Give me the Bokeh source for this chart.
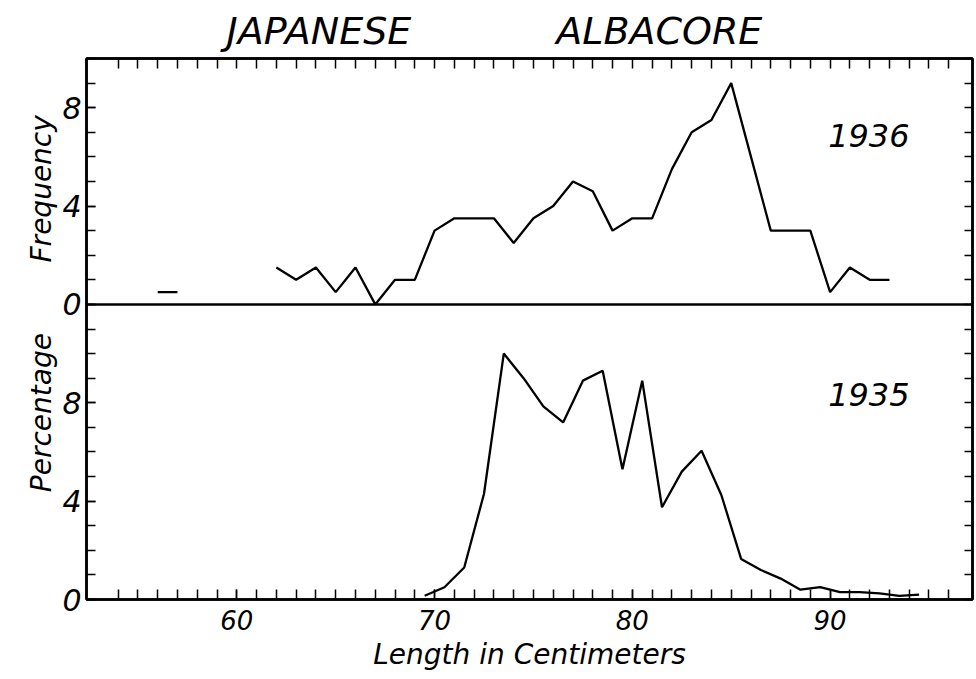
import math
from bokeh.plotting import figure
from bokeh.models import Range1d, LinearAxis, FixedTicker, Label, Span
from bokeh.layouts import row
from bokeh.embed import file_html
from bokeh.resources import INLINE

# ---------------- data ----------------
# 1936 (Frequency) - isolated short piece and main curve
len_1936_iso = [56, 57]
freq_1936_iso = [0.5, 0.5]
len_1936 = [62, 63, 64, 65, 66, 67, 68, 69, 70, 71, 72, 73, 74, 75, 76, 77,
            78, 79, 80, 81, 82, 83, 84, 85, 86, 87, 88, 89, 90, 91, 92, 93]
freq_1936 = [1.5, 1.0, 1.5, 0.5, 1.5, 0.0, 1.0, 1.0, 3.0, 3.5, 3.5, 3.5, 2.5, 3.5, 4.0, 5.0,
             4.6, 3.0, 3.5, 3.5, 5.5, 7.0, 7.5, 9.0, 6.0, 3.0, 3.0, 3.0, 0.5, 1.5, 1.0, 1.0]

# 1935 (Percentage)
len_1935 = [69.5, 70.5, 71.5, 72.5, 73.5, 74.5, 75.5, 76.5, 77.5, 78.5, 79.5, 80.5, 81.5,
            82.5, 83.5, 84.5, 85.5, 86.5, 87.5, 88.5, 89.5, 90.5, 91.5, 92.5, 93.5, 94.5]
pct_1935 = [0.15, 0.5, 1.3, 4.3, 10.0, 9.0, 7.85, 7.2, 8.9, 9.3, 5.3, 8.9, 3.75,
            5.2, 6.05, 4.25, 1.65, 1.2, 0.85, 0.4, 0.5, 0.3, 0.3, 0.25, 0.15, 0.2]

x_label_ticks = [60, 70, 80, 90]
x_minor_ticks = list(range(54, 97))
pct_label_ticks = [0, 4, 8]
freq_label_ticks = [0, 4, 8]
PCT_MAX = 12     # bottom panel: Percentage 0..12
FREQ_MAX = 10    # top panel: Frequency 0..10

FONT = "DejaVu Sans"
H = 679
TOP_B = 58
BOT_B = 80
LAB_W = 58
LW = 2.3

y_pct = Range1d(0, PCT_MAX + FREQ_MAX)
y_freq = Range1d(-PCT_MAX, FREQ_MAX)

p = figure(width=975 - LAB_W, height=H,
           x_range=Range1d(52.4, 97.2), y_range=y_pct,
           output_backend="svg", toolbar_location=None,
           title="JAPANESE" + "\u00a0" * 12 + "ALBACORE",
           min_border_left=86 - LAB_W, min_border_right=3, min_border_top=TOP_B,
           min_border_bottom=BOT_B)
p.extra_y_ranges = {"freq": y_freq}

p.title.align = "left"
p.title.offset = 140
p.title.text_font = FONT
p.title.text_font_style = "italic"
p.title.text_font_size = "38px"
p.title.text_color = "black"
p.title.standoff = 12


def style_axis(ax, tick_len, label_size="30px"):
    ax.axis_line_color = "black"
    ax.axis_line_width = 2.5
    ax.major_tick_in = tick_len
    ax.major_tick_out = 0
    ax.minor_tick_in = tick_len
    ax.minor_tick_out = 0
    ax.major_tick_line_color = "black"
    ax.minor_tick_line_color = "black"
    ax.major_tick_line_width = 1.5
    ax.minor_tick_line_width = 1.5
    ax.major_label_text_font = FONT
    ax.major_label_text_font_style = "italic"
    ax.major_label_text_font_size = label_size
    ax.major_label_text_color = "black"
    ax.axis_label_text_font = FONT
    ax.axis_label_text_font_style = "italic"
    ax.axis_label_text_color = "black"


# bottom x axis with labels
p.xaxis.ticker = FixedTicker(ticks=x_label_ticks, minor_ticks=x_minor_ticks)
style_axis(p.xaxis[0], 10, "26px")
p.xaxis.axis_label = "Length in Centimeters"
p.xaxis.axis_label_text_font_size = "28px"
p.xaxis.major_label_standoff = 10
p.xaxis.axis_label_standoff = 5

# top x axis: ticks only
top_ax = LinearAxis(ticker=FixedTicker(ticks=[], minor_ticks=x_minor_ticks))
style_axis(top_ax, 10)
p.add_layout(top_ax, "above")

# left y axis: Percentage panel below, Frequency panel above
y_all_minor = list(range(0, PCT_MAX + FREQ_MAX + 1))
left_major = pct_label_ticks + [PCT_MAX + v for v in freq_label_ticks]
p.yaxis.ticker = FixedTicker(ticks=left_major, minor_ticks=y_all_minor)
p.yaxis.major_label_overrides = {PCT_MAX + v: str(v) for v in freq_label_ticks}
style_axis(p.yaxis[0], 9)
p.yaxis.major_label_standoff = 5

# right y axis: ticks only
right_ax = LinearAxis(ticker=FixedTicker(ticks=[], minor_ticks=y_all_minor))
style_axis(right_ax, 8)
p.add_layout(right_ax, "right")

p.xgrid.grid_line_color = None
p.ygrid.grid_line_color = None
p.outline_line_color = "black"
p.outline_line_width = 2.5

# divider between the panels (Frequency zero line)
p.add_layout(Span(location=0, dimension="width", y_range_name="freq",
                  line_color="black", line_width=2.5))

# data lines
p.line(len_1936_iso, freq_1936_iso, y_range_name="freq", line_color="black", line_width=LW)
p.line(len_1936, freq_1936, y_range_name="freq", line_color="black", line_width=LW)
p.line(len_1935, pct_1935, line_color="black", line_width=LW)

# panel texts
p.add_layout(Label(x=89.9, y=6.85, y_range_name="freq", text="1936", text_font=FONT,
                   text_font_style="italic", text_font_size="32px",
                   text_color="black", text_baseline="alphabetic"))
p.add_layout(Label(x=89.9, y=8.35, text="1935", text_font=FONT,
                   text_font_style="italic", text_font_size="32px",
                   text_color="black", text_baseline="alphabetic"))

# ---------------- y-axis titles column (shares the y scales) ----------------
lab = figure(width=LAB_W, height=H, x_range=Range1d(0, LAB_W), y_range=y_pct,
             output_backend="svg", toolbar_location=None,
             x_axis_type=None, y_axis_type=None,
             min_border_left=0, min_border_right=0, min_border_top=TOP_B,
             min_border_bottom=BOT_B)
lab.extra_y_ranges = {"freq": y_freq}
lab.outline_line_color = None
lab.xgrid.grid_line_color = None
lab.ygrid.grid_line_color = None

lab.add_layout(Label(x=41, y=4.7, y_range_name="freq", text="Frequency", angle=math.pi / 2,
                     text_font=FONT, text_font_style="italic", text_font_size="28px",
                     text_color="black", text_align="center", text_baseline="middle"))
lab.add_layout(Label(x=41, y=7.6, text="Percentage", angle=math.pi / 2,
                     text_font=FONT, text_font_style="italic", text_font_size="28px",
                     text_color="black", text_align="center", text_baseline="middle"))

layout = row(lab, p, spacing=0)

with open("out.html", "w") as f:
    f.write(file_html(layout, INLINE))
